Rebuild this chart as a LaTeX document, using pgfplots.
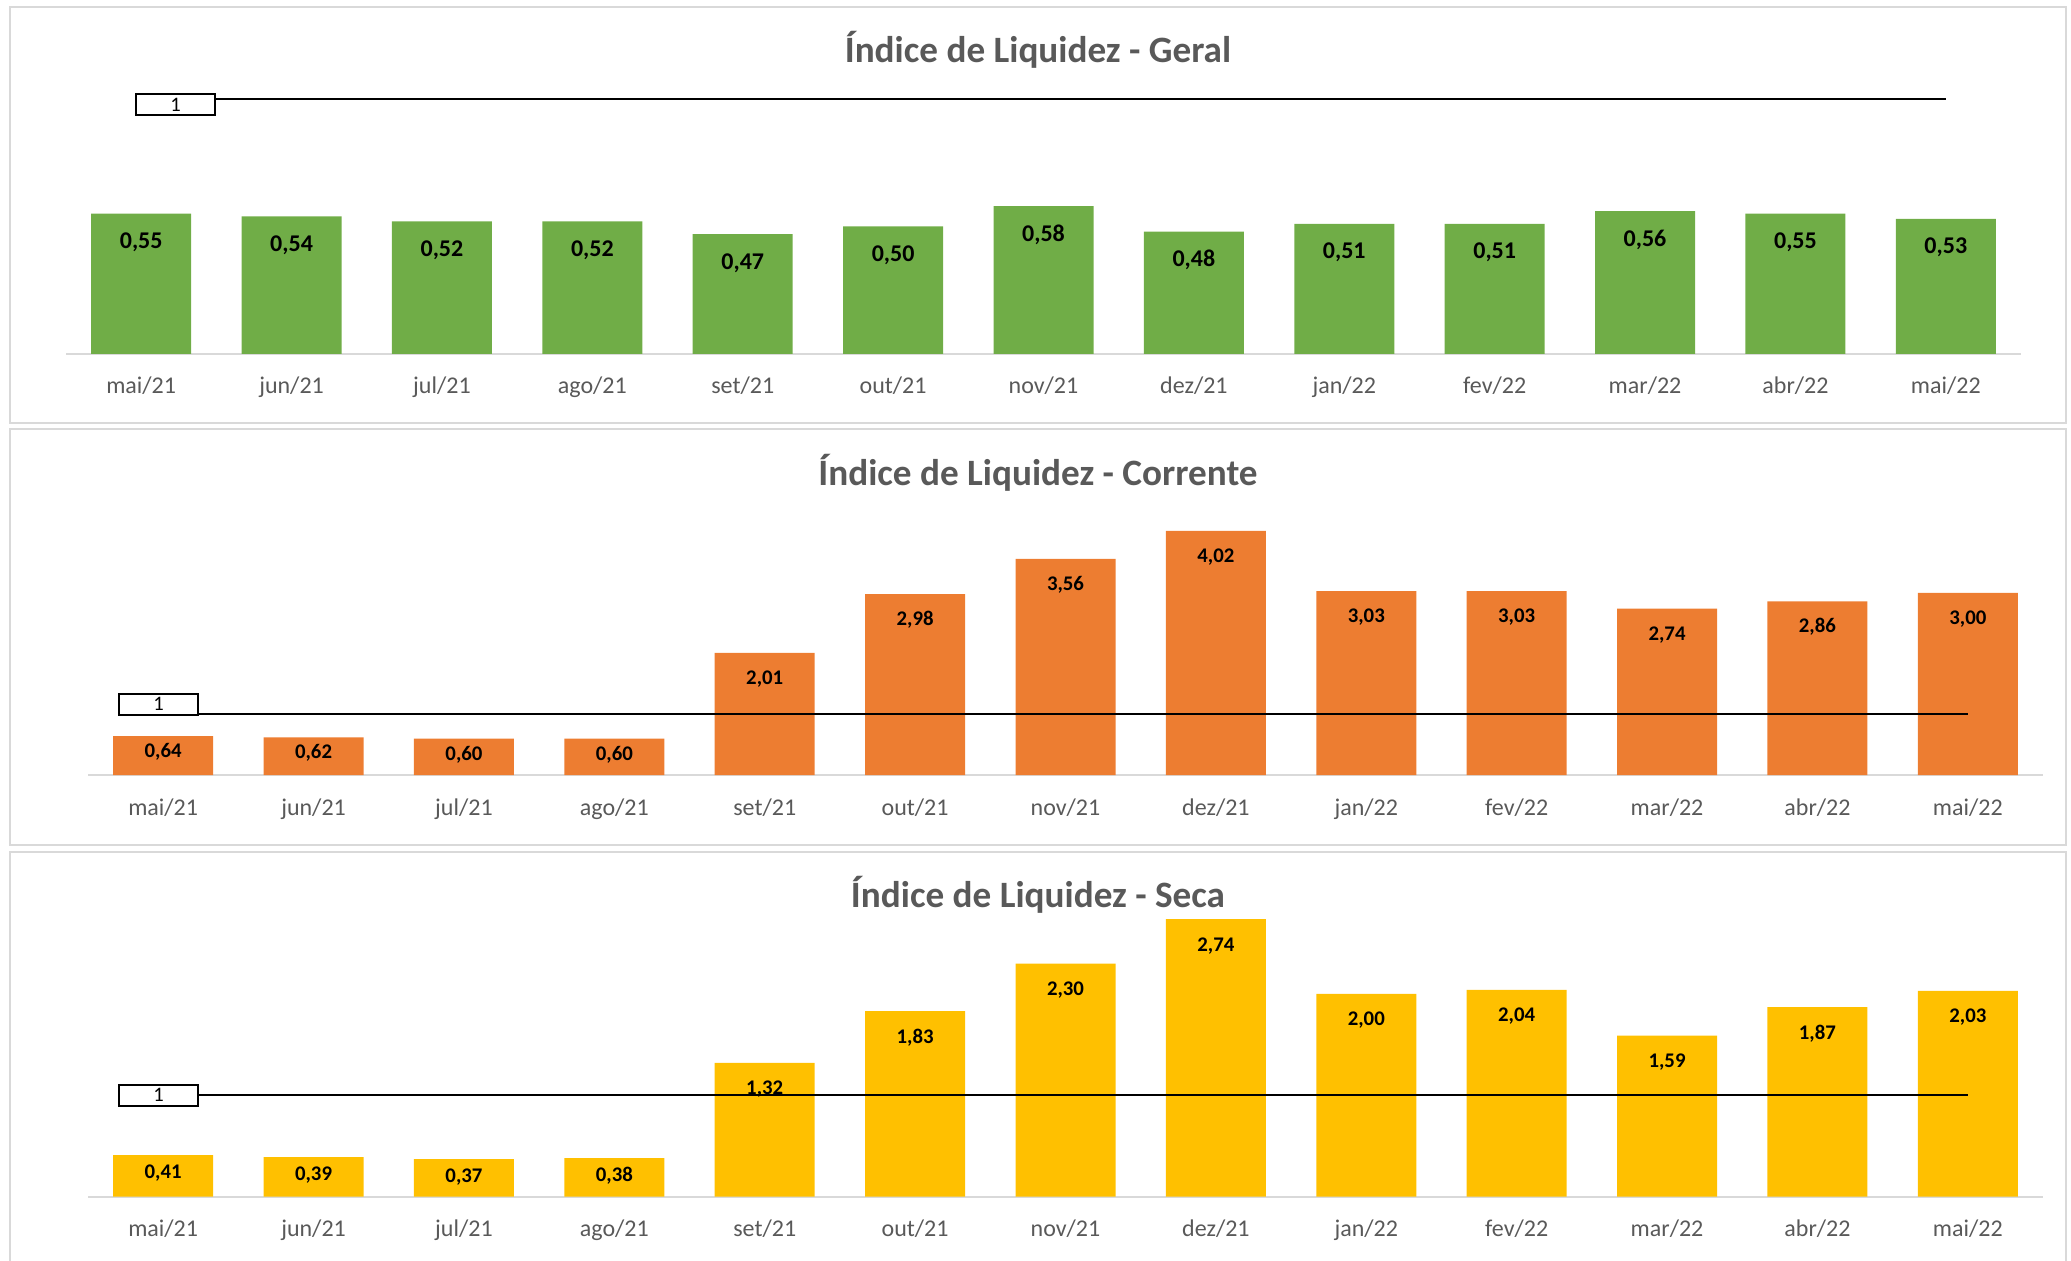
\documentclass[border=0pt]{standalone}
\usepackage{fontspec}
\setmainfont{Carlito}
\usepackage{pgfplots}
\pgfplotsset{compat=1.18}
\definecolor{geral}{HTML}{70AD47}
\definecolor{corrente}{HTML}{ED7D31}
\definecolor{seca}{HTML}{FFC000}
\definecolor{textgray}{HTML}{595959}
\definecolor{bordercol}{HTML}{D9D9D9}
\tikzset{
  onebox/.style={draw=black, line width=0.8pt, fill=white, minimum width=39.5pt, minimum height=10.5pt, inner sep=0pt, font=\fontsize{10.3}{10.3}\selectfont},
}
\pgfplotsset{
  panel/.style={
    scale only axis, width=977.5pt, anchor=south west,
    xmin=-0.5, xmax=12.5, ymin=0,
    axis y line=none, axis x line*=bottom,
    x axis line style={draw=bordercol, line width=1pt, -},
    xtick={0,...,12},
    xticklabels={mai/21,jun/21,jul/21,ago/21,set/21,out/21,nov/21,dez/21,jan/22,fev/22,mar/22,abr/22,mai/22},
    major tick length=0pt,
    xticklabel style={font=\fontsize{12}{12}\selectfont, text=textgray, anchor=base, yshift=-20pt},
    clip=false,
    /pgf/number format/assume math mode=true,
  },
  bars/.style n args={3}{
    ybar, bar width=50pt, bar shift=0pt, fill=#1, draw=none,
    nodes near coords={\pgfmathprintnumber[assume math mode=true,fixed,fixed zerofill,precision=2,use comma]{\pgfplotspointmeta}},
    every node near coord/.append style={font=\bfseries\fontsize{#2}{#2}\selectfont, text=black, anchor=base, yshift=#3},
  },
  oneline/.style={black, line width=1.2pt, sharp plot, mark=none},
}
\begin{document}
\begin{tikzpicture}
\path[use as bounding box] (0,0) rectangle (1035.5pt,-630.5pt);
\draw[bordercol, line width=1pt] (5pt,-3.5pt) rectangle (1033pt,-211.35pt);
\draw[bordercol, line width=1pt] (5pt,-214.5pt) rectangle (1033pt,-422.5pt);
\draw[bordercol, line width=1pt] (5pt,-640pt) -- (5pt,-426pt) -- (1033pt,-426pt) -- (1033pt,-640pt);
\node[anchor=base, text=textgray, font=\bfseries\fontsize{18.6}{18.6}\selectfont] at (519pt,-31.5pt) {Índice de Liquidez - Geral};
\node[anchor=base, text=textgray, font=\bfseries\fontsize{18.6}{18.6}\selectfont] at (519pt,-243pt) {Índice de Liquidez - Corrente};
\node[anchor=base, text=textgray, font=\bfseries\fontsize{18.6}{18.6}\selectfont] at (519pt,-453.5pt) {Índice de Liquidez - Seca};

% Panel 1: Geral
\begin{axis}[panel, at={(33pt,-177pt)}, height=153pt, ymax=1.2]
\addplot[bars={geral}{12}{-17.5pt}] coordinates {(0,0.55) (1,0.54) (2,0.52) (3,0.52) (4,0.47) (5,0.50) (6,0.58) (7,0.48) (8,0.51) (9,0.51) (10,0.56) (11,0.55) (12,0.53)};
\addplot[oneline] coordinates {(0,1) (12,1)} node[pos=0, onebox, xshift=17.25pt, yshift=-2.75pt] {1};
\end{axis}

% Panel 2: Corrente
\begin{axis}[panel, at={(44pt,-387.5pt)}, height=136.6pt, ymax=4.5]
\addplot[bars={corrente}{10.4}{-10.8pt}] coordinates {(0,0.64) (1,0.62) (2,0.60) (3,0.60)};
\addplot[bars={corrente}{10.4}{-15.8pt}] coordinates {(4,2.01) (5,2.98) (6,3.56) (7,4.02) (8,3.03) (9,3.03) (10,2.74) (11,2.86) (12,3.00)};
\addplot[oneline] coordinates {(0,1) (12,1)} node[pos=0, onebox, xshift=-2.25pt, yshift=5pt] {1};
\end{axis}

% Panel 3: Seca
\begin{axis}[panel, at={(44pt,-598.3pt)}, height=146.9pt, ymax=2.9]
\addplot[bars={seca}{10.4}{-11.5pt}] coordinates {(0,0.41) (1,0.39) (2,0.37) (3,0.38)};
\addplot[bars={seca}{10.4}{-16pt}] coordinates {(4,1.32) (5,1.83) (6,2.30) (7,2.74) (8,2.00) (9,2.04) (10,1.59) (11,1.87) (12,2.03)};
\addplot[oneline] coordinates {(0,1) (12,1)} node[pos=0, onebox, xshift=-2.25pt, yshift=0pt] {1};
\end{axis}
\end{tikzpicture}
\end{document}
